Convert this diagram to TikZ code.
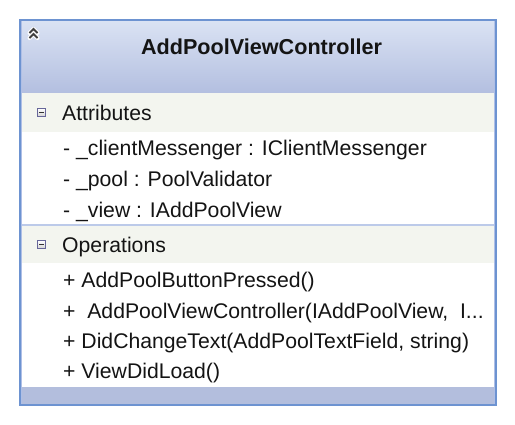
\documentclass[tikz,border=0pt]{standalone}
\usepackage{fontspec}
\setmainfont{Liberation Sans}
\definecolor{frameblue}{HTML}{6D93D1}
\definecolor{stripblue}{HTML}{AFBFE6}
\definecolor{headtop}{HTML}{DAE2F3}
\definecolor{headbot}{HTML}{B3BFE0}
\definecolor{comphead}{HTML}{F3F5EF}
\definecolor{sepblue}{HTML}{BCCAE9}
\definecolor{footblue}{HTML}{B3BEDD}
\definecolor{txt}{HTML}{141414}
\begin{document}
\begin{tikzpicture}[x=1pt,y=-1pt,
  bodytext/.style={anchor=base west,inner sep=0pt,text=txt,font=\fontsize{21.2}{24}\selectfont},
  titletext/.style={anchor=base,inner sep=0pt,text=txt,font=\fontsize{21.6}{26}\selectfont\bfseries},
  minusbox/.style={draw=gray!80!blue,line width=0.8pt,top color=white,bottom color=gray!35,minimum width=8pt,minimum height=8pt,inner sep=0pt}]
\useasboundingbox (0,0) rectangle (515,424);
\fill[white] (0,0) rectangle (515,424);
% light strip inside frame
\fill[stripblue] (20,20) rectangle (496,405);
% header gradient
\shade[top color=headtop,bottom color=headbot] (22,21) rectangle (494,93);
% compartments
\fill[comphead] (22,93) rectangle (494,132);
\fill[white] (22,132) rectangle (494,224);
\fill[sepblue] (22,224) rectangle (494,226);
\fill[comphead] (22,226) rectangle (494,263);
\fill[white] (22,263) rectangle (494,387);
\fill[footblue] (22,387) rectangle (494,404);
% frame
\draw[frameblue,line width=2pt] (20,20) rectangle (496,405);
% chevron icon
\coordinate (chev) at (33.5,29);
\foreach \dy in {0,5}{
  \draw[white,line width=4pt,line cap=round,line join=round] ([shift={(-4,\dy+4)}]chev) -- ([shift={(0,\dy)}]chev) -- ([shift={(4,\dy+4)}]chev);
}
\foreach \dy in {0,5}{
  \draw[black!75,line width=1.8pt,line join=miter] ([shift={(-4,\dy+4)}]chev) -- ([shift={(0,\dy)}]chev) -- ([shift={(4,\dy+4)}]chev);
}
% title
\node[titletext] (title) at (261.5,54) {AddPoolViewController};
% attributes
\node[minusbox] (mA) at (41.5,112.5) {};
\draw[black!80,line width=1.2pt] ([xshift=-2.5pt]mA.center) -- ([xshift=2.5pt]mA.center);
\node[bodytext] (attr) at (62,120) {Attributes};
\node[bodytext] (a1) at (63,155) {- \_clientMessenger : IClientMessenger};
\node[bodytext] (a2) at (63,186) {- \_pool : PoolValidator};
\node[bodytext] (a3) at (63,217) {- \_view : IAddPoolView};
% operations
\node[minusbox] (mO) at (41.5,244.5) {};
\draw[black!80,line width=1.2pt] ([xshift=-2.5pt]mO.center) -- ([xshift=2.5pt]mO.center);
\node[bodytext] (ops) at (62,252) {Operations};
\node[bodytext] (o1) at (63,287) {+ AddPoolButtonPressed()};
\node[bodytext] (o2) at (63,318) {+\ \ AddPoolViewController(IAddPoolView,\ \ I...};
\node[bodytext] (o3) at (63,348) {+ DidChangeText(AddPoolTextField, string)};
\node[bodytext] (o4) at (63,378) {+ ViewDidLoad()};
\end{tikzpicture}
\end{document}
